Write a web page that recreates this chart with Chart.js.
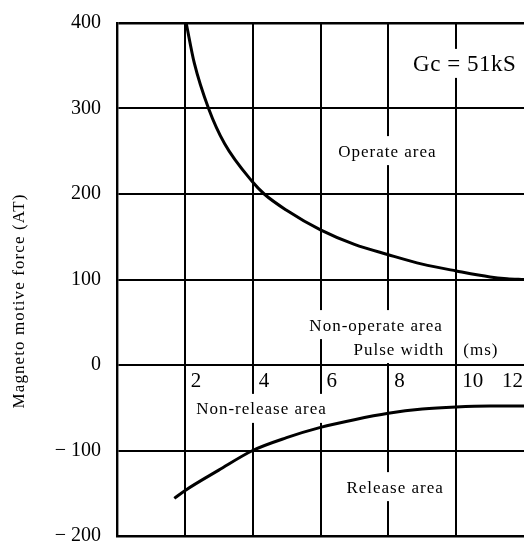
<!DOCTYPE html>
<html><head><meta charset="utf-8">
<script src="https://cdn.jsdelivr.net/npm/chart.js@4/dist/chart.umd.min.js"></script>
<style>html,body{margin:0;padding:0;background:#fff;}</style>
</head><body>
<canvas id="c" width="524" height="546"></canvas>
<script>
// ---- data ----
const pulseWidthTicks = [2, 4, 6, 8, 10, 12];
const mmfTicks = [-200, -100, 0, 100, 200, 300, 400];
const operateX = [2.04, 2.28, 2.7, 3.17, 4, 4.34, 5, 6, 7, 8, 9, 10, 11, 11.5, 12];
const operateY = [400, 353, 300, 259, 214, 200, 181, 158, 141, 129, 118, 110, 103, 101, 100];
const releaseX = [1.69, 2, 3, 4, 5, 6, 7, 8, 9, 10, 11, 12];
const releaseY = [-156, -147, -123, -100, -85, -73, -64, -56.5, -51.5, -49, -48, -48];
const yTitle = 'Magneto motive force (AT)';
const areaTexts = ['Gc = 51kS', 'Operate area', 'Non-operate area', 'Pulse width', '(ms)', 'Non-release area', 'Release area'];

// ---- presentation ----
const SERIF = "'Liberation Serif', 'Times New Roman', serif";
const annotations = [
  { text: areaTexts[0], x: 10.25, y: 351, align: 'center', size: 23, spacing: 0.5, box: true },
  { text: areaTexts[1], x: 7.97, y: 249, align: 'center', size: 17, spacing: 1, box: true },
  { text: areaTexts[2], x: 7.64, y: 45.5, align: 'center', size: 17, spacing: 1, box: true },
  { text: areaTexts[3], x: 9.65, y: 17.5, align: 'right', size: 17, spacing: 1, box: true },
  { text: areaTexts[4], x: 10.21, y: 17.5, align: 'left', size: 17, spacing: 1, box: false },
  { text: areaTexts[5], x: 4.26, y: -52.5, align: 'center', size: 17, spacing: 1, box: true },
  { text: areaTexts[6], x: 8.2, y: -144, align: 'center', size: 17, spacing: 1, box: true }
];

const toPoints = (xs, ys) => xs.map((v, i) => ({ x: v, y: ys[i] }));
const fmtY = v => v < 0 ? '\u2212 ' + Math.abs(v) : String(v);

const overlay = {
  id: 'overlay',
  beforeDatasetsDraw(chart) {
    const { ctx, scales: { x, y } } = chart;
    ctx.save();
    ctx.textBaseline = 'middle';
    annotations.forEach(a => {
      ctx.font = a.size + 'px ' + SERIF;
      ctx.letterSpacing = a.spacing + 'px';
      const w = ctx.measureText(a.text).width;
      const px = x.getPixelForValue(a.x), py = y.getPixelForValue(a.y);
      const left = a.align === 'center' ? px - w / 2 : (a.align === 'right' ? px - w : px);
      a._left = left;
      if (a.box) {
        ctx.fillStyle = '#fff';
        ctx.fillRect(left - 3, py - 16, w + 6, 29);
      }
    });
    ctx.fillStyle = '#000';
    ctx.textAlign = 'left';
    annotations.forEach(a => {
      ctx.font = a.size + 'px ' + SERIF;
      ctx.letterSpacing = a.spacing + 'px';
      ctx.fillText(a.text, a._left, y.getPixelForValue(a.y));
    });
    ctx.letterSpacing = '0px';
    // x tick labels along the zero line
    ctx.font = '21px ' + SERIF;
    const y0 = y.getPixelForValue(0) + 16;
    pulseWidthTicks.forEach(v => {
      const label = String(v);
      const w = ctx.measureText(label).width;
      let px = x.getPixelForValue(v) + 6;
      if (px + w > chart.width) px = chart.width - 1 - w;
      ctx.fillText(label, px, y0);
    });
    // y tick labels
    ctx.font = '20px ' + SERIF;
    ctx.textAlign = 'right';
    const lx = chart.chartArea.left - 16;
    mmfTicks.forEach(v => ctx.fillText(fmtY(v), lx, y.getPixelForValue(v)));
    // y axis title
    ctx.translate(20, 301);
    ctx.rotate(-Math.PI / 2);
    ctx.textAlign = 'center';
    ctx.font = '17px ' + SERIF;
    ctx.letterSpacing = '1.1px';
    ctx.fillText(yTitle, 0, 0);
    ctx.letterSpacing = '0px';
    ctx.restore();
  }
};

new Chart(document.getElementById('c'), {
  type: 'line',
  data: {
    datasets: [
      { label: 'Operate', data: toPoints(operateX, operateY) },
      { label: 'Release', data: toPoints(releaseX, releaseY) }
    ]
  },
  options: {
    responsive: false,
    devicePixelRatio: 1,
    animation: false,
    parsing: false,
    layout: { padding: { left: 0, right: 0, top: 23, bottom: 10 } },
    elements: {
      line: { borderColor: '#000', borderWidth: 3, cubicInterpolationMode: 'monotone', fill: false },
      point: { radius: 0, hoverRadius: 0 }
    },
    datasets: { line: { clip: 4 } },
    plugins: { legend: { display: false }, tooltip: { enabled: false }, title: { display: false } },
    scales: {
      x: {
        type: 'linear', min: 0, max: 12, position: 'bottom',
        afterBuildTicks: s => { s.ticks = [0, ...pulseWidthTicks].map(v => ({ value: v })); },
        afterFit: s => { s.height = 0; },
        ticks: { display: false },
        grid: {
          color: c => (c.tick && c.tick.value === 12) ? 'rgba(0,0,0,0)' : '#000',
          lineWidth: 2, drawTicks: false
        },
        border: { display: true, color: '#000', width: 2.4 }
      },
      y: {
        type: 'linear', min: -200, max: 400,
        afterBuildTicks: s => { s.ticks = mmfTicks.map(v => ({ value: v })); },
        afterFit: s => { s.width = 117; },
        ticks: { display: false },
        grid: {
          color: '#000',
          lineWidth: c => (c.tick && c.tick.value === 400) ? 2.4 : 2,
          drawTicks: false
        },
        border: { display: true, color: '#000', width: 2.4 }
      }
    }
  },
  plugins: [overlay]
});
</script>
</body></html>
